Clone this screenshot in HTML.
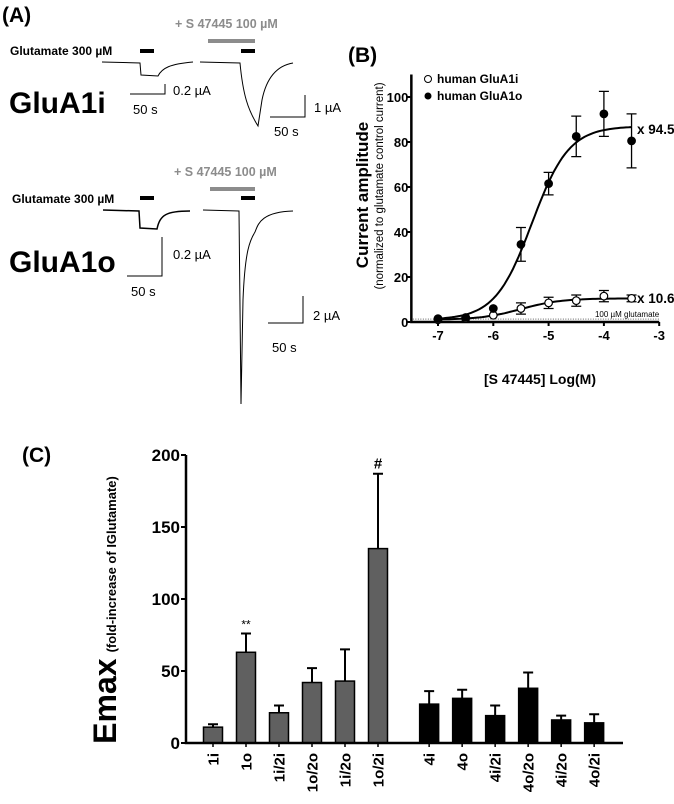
<!DOCTYPE html>
<html><head><meta charset="utf-8"><style>
body{margin:0;background:#fff;}
svg{display:block;font-family:"Liberation Sans",Arial,sans-serif;}
</style></head><body>
<svg id="fig" width="674" height="804" viewBox="0 0 674 804">
<!-- Panel A -->
<g font-weight="bold">
<text x="2" y="22" font-size="21">(A)</text>
<text x="175" y="28" font-size="12.5" fill="#8c8c8c">+ S 47445 100 µM</text>
<rect x="208" y="39" width="47" height="4" fill="#8c8c8c"/>
<rect x="241" y="49" width="14" height="4" fill="#000"/>
<text x="10" y="55" font-size="12">Glutamate 300 µM</text>
<rect x="140" y="49" width="14" height="4" fill="#000"/>
<path d="M102,62 L140,63 L141,75 L158,76 C162,68 170,64 193,62" fill="none" stroke="#000" stroke-width="1"/>
<path d="M200,62 L240,63 C243,95 248,110 258,126 L262,100 C266,80 275,66 293,63" fill="none" stroke="#000" stroke-width="1"/>
<path d="M130,94 L165,94 L165,84" fill="none" stroke="#000"/>
<text x="173" y="95" font-size="13" font-weight="normal">0.2 µA</text>
<text x="133" y="114" font-size="13" font-weight="normal">50 s</text>
<text x="9" y="113" font-size="30">GluA1i</text>
<path d="M270,117 L305,117 L305,95" fill="none" stroke="#000"/>
<text x="314" y="112" font-size="13" font-weight="normal">1 µA</text>
<text x="274" y="136" font-size="13" font-weight="normal">50 s</text>

<text x="174" y="176" font-size="12.5" fill="#8c8c8c">+ S 47445 100 µM</text>
<rect x="210" y="187" width="45" height="4" fill="#8c8c8c"/>
<rect x="241" y="196" width="14" height="4" fill="#000"/>
<text x="12" y="203" font-size="12">Glutamate 300 µM</text>
<rect x="140" y="196" width="14" height="4" fill="#000"/>
<path d="M103,210 L139,211 L140,228 L157,229 C160,215 166,211 190,211" fill="none" stroke="#000" stroke-width="1.5"/>
<path d="M203,210 L239,211 L241,404 L243,300 C245,250 250,240 255,232 C258,225 260,212 293,211" fill="none" stroke="#000" stroke-width="1"/>
<path d="M127,276 L162,276 L162,237" fill="none" stroke="#000"/>
<text x="173" y="259" font-size="13" font-weight="normal">0.2 µA</text>
<text x="131" y="296" font-size="13" font-weight="normal">50 s</text>
<text x="9" y="272" font-size="30">GluA1o</text>
<path d="M268,323 L303,323 L303,296" fill="none" stroke="#000"/>
<text x="313" y="320" font-size="13" font-weight="normal">2 µA</text>
<text x="272" y="352" font-size="13" font-weight="normal">50 s</text>
</g>

<!-- Panel B -->
<g id="pb" font-weight="bold">
<text x="348" y="62" font-size="21">(B)</text>
<text transform="translate(368,195) rotate(-90)" text-anchor="middle" font-size="17">Current amplitude</text>
<text transform="translate(383,186) rotate(-90)" text-anchor="middle" font-size="11.5" font-weight="normal">(normalized to glutamate control current)</text>
<text x="540" y="384" text-anchor="middle" font-size="14">[S 47445]  Log(M)</text>
<circle cx="428" cy="79" r="3.5" fill="#fff" stroke="#000"/>
<text x="437" y="83" font-size="12">human GluA1i</text>
<circle cx="428" cy="96" r="3.5" fill="#000"/>
<text x="437" y="100" font-size="12">human GluA1o</text>
<text x="637" y="134" font-size="13.5">x 94.5</text>
<text x="637" y="303" font-size="13.5">x 10.6</text>
</g>

<!-- Panel C -->
<g id="pc" font-weight="bold">
<text x="22" y="462" font-size="21">(C)</text>
<text transform="translate(116,610) rotate(-90)" text-anchor="middle"><tspan font-size="32">Emax</tspan><tspan font-size="13" dx="6">(fold-increase of IGlutamate)</tspan></text>
</g>
</svg>
<script>
const NS='http://www.w3.org/2000/svg';
function mk(parent,tag,attrs){const e=document.createElementNS(NS,tag);for(const k in attrs)e.setAttribute(k,attrs[k]);parent.appendChild(e);return e;}

// ---- Panel B data ----
const bLogConc=[-7,-6.5,-6,-5.5,-5,-4.5,-4,-3.5];
const bA1oMean=[1.5,2,6,34.5,61.5,82.5,92.5,80.5];
const bA1oErr=[0,0,0,7.5,5,9,10,12];
const bA1iMean=[1,1.5,3,6,8.5,9.5,11.5,10.5];
const bA1iErr=[0,0,0,2.5,2.5,2.5,2.5,1.5];
const bXTicks=[-7,-6,-5,-4,-3];
const bYTicks=[0,20,40,60,80,100];
const bFitA1o=[1,87,-5.3,1.3];
const bFitA1i=[1,10.5,-5.5,1.2];

const bx=v=>438+(v+7)*55.3;
const by=v=>322-v*2.25;
const pb=document.getElementById('pb');
let e;
e=mk(pb,'line',{x1:bx(-7.5),y1:by(1.3),x2:bx(-3),y2:by(1.3),stroke:'#000','stroke-width':0.7,'stroke-dasharray':'1,1.5'});


e=mk(pb,'text',{x:bx(-3),y:by(1.3)-2,'text-anchor':'end','font-size':8,'font-weight':'normal'});e.textContent='100 µM glutamate';


e=mk(pb,'path',{d:`M${bx(-7.5)+1},${by(110)} L${bx(-7.5)+1},${by(0)} L${bx(-3)},${by(0)}`,fill:'none',stroke:'#000','stroke-width':2.5});


bYTicks.forEach(t=>{
 e=mk(pb,'line',{x1:bx(-7.5)-3,y1:by(t),x2:bx(-7.5),y2:by(t),stroke:'#000','stroke-width':2});
 
 
 e=mk(pb,'text',{x:bx(-7.5)-2,y:by(t)+5,'text-anchor':'end','font-size':13});e.textContent=t;
 
 
});
bXTicks.forEach(t=>{
 e=mk(pb,'line',{x1:bx(t),y1:by(0),x2:bx(t),y2:by(0)+4,stroke:'#000','stroke-width':2});
 
 
 e=mk(pb,'text',{x:bx(t),y:by(0)+18,'text-anchor':'middle','font-size':13});e.textContent=t;
 
 
});
function fitPath(p){let d='';for(let x=-7;x<=-3.5+1e-9;x+=0.05){const y=p[0]+(p[1]-p[0])/(1+Math.pow(10,(p[2]-x)*p[3]));d+=(d?'L':'M')+bx(x).toFixed(1)+','+by(y).toFixed(1);}return d;}
e=mk(pb,'path',{d:fitPath(bFitA1o),fill:'none',stroke:'#000','stroke-width':2});


e=mk(pb,'path',{d:fitPath(bFitA1i),fill:'none',stroke:'#000','stroke-width':2});


function series(mean,err,fill,name){
 bLogConc.forEach((c,i)=>{
  if(err[i]>0){
   const x=bx(c),y1=by(mean[i]+err[i]),y2=by(mean[i]-err[i]);
   e=mk(pb,'path',{d:`M${x},${y1}L${x},${y2}M${x-5},${y1}L${x+5},${y1}M${x-5},${y2}L${x+5},${y2}`,stroke:'#000','stroke-width':1.3,fill:'none'});
   
   
  }
  e=mk(pb,'circle',{cx:bx(c),cy:by(mean[i]),r:3.8,fill:fill,stroke:'#000','stroke-width':1.2});
  
  
 });
}
series(bA1iMean,bA1iErr,'#fff','glua1i');
series(bA1oMean,bA1oErr,'#000','glua1o');

// ---- Panel C data ----
const cLabels=['1i','1o','1i/2i','1o/2o','1i/2o','1o/2i','4i','4o','4i/2i','4o/2o','4i/2o','4o/2i'];
const cMeans=[11,63,21,42,43,135,27,31,19,38,16,14];
const cErrs=[2,13,5,10,22,52,9,6,7,11,3,6];
const cAnnot=['','**','','','','#','','','','','',''];
const cYTicks=[0,50,100,150,200];

const pc=document.getElementById('pc');
const cx=i=>213+(i<6?i:i+0.55)*33;
const cy=v=>743-v*1.44;
cMeans.forEach((m,i)=>{
 const x=cx(i),fill=i<6?'#606060':'#000';
 const top=cy(m+cErrs[i]);
 e=mk(pc,'path',{d:`M${x},${cy(m)}L${x},${top}M${x-5},${top}L${x+5},${top}`,stroke:'#000','stroke-width':2,fill:'none'});
 
 
 e=mk(pc,'rect',{x:x-9.5,y:cy(m),width:19,height:cy(0)-cy(m),fill:fill,stroke:'#000','stroke-width':1.5});
 
 
 if(cAnnot[i]){
  e=mk(pc,'text',{x:x,y:top-5,'text-anchor':'middle','font-size':cAnnot[i]=='#'?15:12,'font-weight':cAnnot[i]=='#'?'bold':'normal'});e.textContent=cAnnot[i];
  
  
 }
 e=mk(pc,'line',{x1:x,y1:cy(0),x2:x,y2:cy(0)+4,stroke:'#000','stroke-width':1.5});
 
 
 e=mk(pc,'text',{transform:`translate(${x+5.5},${cy(0)+10}) rotate(-90)`,'text-anchor':'end','font-size':15});e.textContent=cLabels[i];
 
 
});
e=mk(pc,'path',{d:`M186,${cy(200)} L186,${cy(0)} L623,${cy(0)}`,fill:'none',stroke:'#000','stroke-width':2.5});


cYTicks.forEach(t=>{
 e=mk(pc,'line',{x1:181,y1:cy(t),x2:186,y2:cy(t),stroke:'#000','stroke-width':2});
 
 
 e=mk(pc,'text',{x:180,y:cy(t)+6,'text-anchor':'end','font-size':17});e.textContent=t;
 
 
});
</script>
</body></html>
